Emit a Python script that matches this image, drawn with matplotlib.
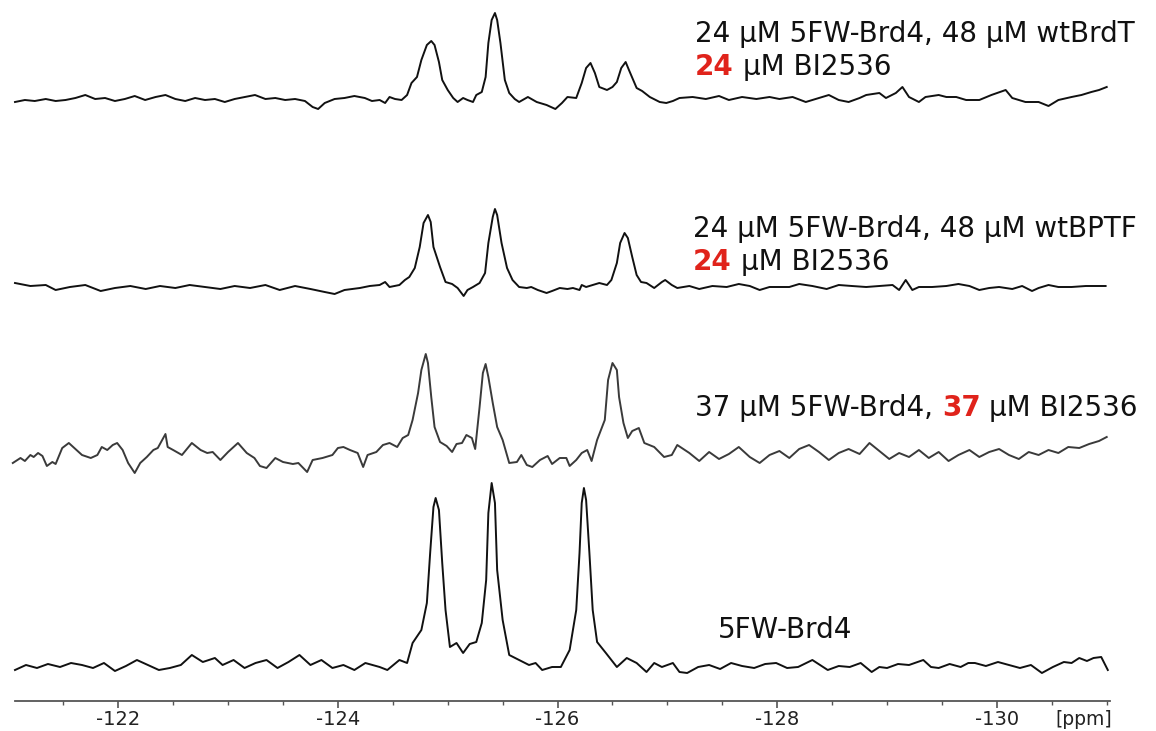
import matplotlib
matplotlib.use("Agg")
import matplotlib.pyplot as plt
import numpy as np

# ---------------- data (chemical shift in ppm, intensity in a.u.) ----------------
# spectrum 1 (top): 24 uM 5FW-Brd4 + 48 uM wtBrdT + 24 uM BI2536
s1_ppm = [-121.06, -121.15, -121.24, -121.34, -121.43, -121.52, -121.61, -121.70, -121.79, -121.88,
          -121.97, -122.06, -122.15, -122.245, -122.34, -122.43, -122.52, -122.61, -122.70, -122.79,
          -122.88, -122.97, -123.06, -123.15, -123.245, -123.34, -123.43, -123.52, -123.61, -123.70,
          -123.77, -123.82, -123.88, -123.97, -124.06, -124.15, -124.245, -124.31, -124.38, -124.43,
          -124.47, -124.52, -124.58, -124.63, -124.67, -124.72, -124.76, -124.81, -124.85, -124.88,
          -124.92, -124.95, -125.00, -125.05, -125.09, -125.14, -125.18, -125.23, -125.26, -125.31,
          -125.345, -125.37, -125.40, -125.43, -125.45, -125.48, -125.52, -125.56, -125.61, -125.65,
          -125.73, -125.81, -125.90, -125.98, -126.04, -126.09, -126.17, -126.22, -126.26, -126.30,
          -126.34, -126.38, -126.45, -126.50, -126.54, -126.58, -126.62, -126.65, -126.72, -126.77,
          -126.84, -126.93, -126.99, -127.05, -127.11, -127.23, -127.35, -127.47, -127.56, -127.68,
          -127.81, -127.93, -128.02, -128.14, -128.26, -128.38, -128.47, -128.56, -128.65, -128.75,
          -128.81, -128.93, -128.99, -129.08, -129.14, -129.20, -129.29, -129.35, -129.47, -129.54,
          -129.63, -129.72, -129.84, -129.95, -130.08, -130.14, -130.26, -130.38, -130.47, -130.56,
          -130.68, -130.77, -130.86, -130.93, -131.00]
s1_int = [-2, 0, -1, 1, -1, 0, 2, 5, 1, 2,
          -1, 1, 4, 0, 3, 5, 1, -1, 2, 0,
          1, -2, 1, 3, 5, 1, 2, 0, 1, -1,
          -7, -9, -3, 1, 2, 4, 2, -1, 0, -3,
          3, 1, 0, 5, 17, 23, 40, 55, 59, 55,
          38, 20, 10, 2, -2, 2, 0, -2, 5, 8,
          23, 57, 80, 87, 80, 57, 20, 7, 1, -2,
          3, -2, -5, -9, -3, 3, 2, 17, 32, 37,
          27, 13, 10, 13, 18, 32, 38, 30, 12, 9,
          3, -2, -3, -1, 2, 3, 1, 4, 0, 3,
          1, 3, 1, 3, -2, 2, 5, 0, -2, 2,
          5, 7, 2, 7, 13, 3, -2, 3, 5, 3,
          3, 0, 0, 5, 10, 2, -2, -2, -6, 0,
          3, 5, 8, 10, 13]

# spectrum 2: 24 uM 5FW-Brd4 + 48 uM wtBPTF + 24 uM BI2536
s2_ppm = [-121.06, -121.20, -121.34, -121.43, -121.56, -121.70, -121.84, -121.97, -122.11, -122.25,
          -122.38, -122.52, -122.65, -122.79, -122.93, -123.06, -123.20, -123.34, -123.47, -123.61,
          -123.75, -123.88, -123.97, -124.06, -124.20, -124.29, -124.38, -124.43, -124.47, -124.56,
          -124.61, -124.65, -124.70, -124.745, -124.78, -124.82, -124.845, -124.87, -124.93, -124.98,
          -125.04, -125.09, -125.145, -125.18, -125.23, -125.29, -125.34, -125.37, -125.41, -125.43,
          -125.45, -125.49, -125.54, -125.59, -125.65, -125.72, -125.76, -125.82, -125.90, -125.95,
          -126.02, -126.09, -126.14, -126.20, -126.22, -126.26, -126.32, -126.38, -126.45, -126.49,
          -126.54, -126.57, -126.61, -126.64, -126.68, -126.72, -126.76, -126.81, -126.88, -126.95,
          -126.98, -127.04, -127.09, -127.20, -127.29, -127.41, -127.54, -127.65, -127.75, -127.84,
          -127.93, -128.11, -128.20, -128.32, -128.45, -128.56, -128.68, -128.81, -128.93, -129.05,
          -129.11, -129.17, -129.23, -129.29, -129.41, -129.54, -129.65, -129.75, -129.84, -129.93,
          -130.02, -130.14, -130.23, -130.32, -130.38, -130.47, -130.56, -130.68, -130.81, -130.93,
          -130.99]
s2_int = [5, 2, 3, -2, 1, 3, -3, 0, 2, -1,
          2, 0, 3, 1, -1, 2, 0, 3, -2, 2,
          -1, -4, -6, -2, 0, 2, 3, 6, 1, 3,
          8, 11, 20, 41, 65, 73, 66, 41, 21, 6,
          4, 0, -8, -2, 1, 5, 15, 45, 71, 79,
          73, 45, 20, 8, 1, 0, 1, -2, -5, -3,
          0, -1, 0, -2, 3, 1, 3, 5, 3, 8,
          25, 45, 55, 50, 31, 13, 6, 5, 0, 6,
          8, 3, 0, 2, -1, 2, 1, 4, 2, -2,
          1, 1, 4, 2, -1, 3, 2, 1, 2, 3,
          -2, 8, -2, 1, 1, 2, 4, 2, -2, 0,
          1, -1, 2, -3, 0, 3, 1, 1, 2, 2,
          2]

# spectrum 3: 37 uM 5FW-Brd4 + 37 uM BI2536
s3_ppm = [-121.04, -121.11, -121.15, -121.20, -121.23, -121.27, -121.31, -121.35, -121.40, -121.43,
          -121.49, -121.55, -121.59, -121.67, -121.75, -121.81, -121.85, -121.90, -121.95, -121.99,
          -122.04, -122.09, -122.15, -122.20, -122.26, -122.32, -122.36, -122.43, -122.45, -122.50,
          -122.58, -122.67, -122.75, -122.81, -122.86, -122.93, -123.00, -123.09, -123.17, -123.24,
          -123.29, -123.35, -123.43, -123.50, -123.59, -123.64, -123.72, -123.77, -123.86, -123.95,
          -124.00, -124.05, -124.11, -124.18, -124.23, -124.27, -124.35, -124.41, -124.47, -124.54,
          -124.59, -124.64, -124.68, -124.73, -124.76, -124.80, -124.82, -124.85, -124.88, -124.93,
          -124.99, -125.04, -125.08, -125.13, -125.17, -125.22, -125.25, -125.29, -125.32, -125.345,
          -125.37, -125.41, -125.45, -125.50, -125.56, -125.63, -125.67, -125.72, -125.77, -125.84,
          -125.91, -125.95, -126.02, -126.08, -126.11, -126.17, -126.22, -126.27, -126.31, -126.36,
          -126.43, -126.46, -126.50, -126.54, -126.56, -126.60, -126.64, -126.68, -126.74, -126.79,
          -126.88, -126.97, -127.04, -127.09, -127.20, -127.29, -127.38, -127.47, -127.56, -127.65,
          -127.75, -127.84, -127.93, -128.02, -128.11, -128.20, -128.29, -128.38, -128.47, -128.56,
          -128.65, -128.75, -128.84, -128.93, -129.02, -129.11, -129.20, -129.29, -129.38, -129.47,
          -129.56, -129.65, -129.75, -129.84, -129.93, -130.02, -130.11, -130.20, -130.29, -130.38,
          -130.47, -130.56, -130.65, -130.75, -130.84, -130.93, -131.00]
s3_int = [-8, -3, -6, 0, -2, 2, -1, -11, -7, -9,
          7, 12, 8, 0, -3, 0, 8, 5, 10, 12,
          5, -8, -18, -8, -2, 5, 7, 21, 8, 5,
          0, 12, 5, 2, 3, -5, 3, 12, 2, -3,
          -11, -13, -3, -7, -9, -8, -17, -5, -3, 0,
          7, 8, 5, 2, -12, 0, 3, 10, 12, 8,
          17, 20, 35, 62, 85, 101, 92, 58, 28, 13,
          9, 3, 11, 12, 20, 17, 6, 48, 82, 91,
          78, 52, 28, 15, -8, -7, 0, -10, -12, -5,
          -1, -9, -3, -3, -11, -5, 2, 5, -6, 15,
          35, 75, 92, 85, 58, 32, 17, 24, 27, 12,
          8, -2, 0, 10, 2, -6, 3, -4, 1, 8,
          -2, -8, 0, 4, -3, 6, 10, 3, -5, 2,
          6, 1, 12, 4, -4, 2, -2, 5, -3, 3,
          -6, 0, 5, -2, 3, 6, 0, -4, 3, 0,
          5, 2, 8, 7, 11, 14, 18]

# spectrum 4 (bottom): 5FW-Brd4 alone
s4_ppm = [-121.06, -121.16, -121.26, -121.36, -121.47, -121.57, -121.67, -121.77, -121.87, -121.97,
          -122.07, -122.17, -122.27, -122.37, -122.47, -122.57, -122.67, -122.77, -122.88, -122.95,
          -123.05, -123.15, -123.25, -123.35, -123.45, -123.55, -123.65, -123.75, -123.85, -123.95,
          -124.05, -124.15, -124.25, -124.38, -124.45, -124.56, -124.63, -124.68, -124.76, -124.81,
          -124.84, -124.87, -124.89, -124.92, -124.95, -124.98, -125.02, -125.08, -125.14, -125.20,
          -125.26, -125.31, -125.35, -125.37, -125.40, -125.43, -125.45, -125.50, -125.56, -125.65,
          -125.74, -125.80, -125.86, -125.95, -126.03, -126.11, -126.17, -126.20, -126.22, -126.24,
          -126.26, -126.29, -126.32, -126.36, -126.44, -126.54, -126.63, -126.72, -126.81, -126.88,
          -126.95, -127.05, -127.11, -127.18, -127.28, -127.38, -127.48, -127.58, -127.68, -127.79,
          -127.89, -127.99, -128.09, -128.19, -128.32, -128.39, -128.46, -128.56, -128.66, -128.76,
          -128.86, -128.93, -129.00, -129.10, -129.20, -129.33, -129.40, -129.47, -129.57, -129.67,
          -129.74, -129.80, -129.90, -130.01, -130.11, -130.21, -130.31, -130.41, -130.51, -130.61,
          -130.68, -130.75, -130.82, -130.88, -130.95, -131.01]
s4_int = [-3, 2, -1, 3, 0, 4, 2, -1, 4, -4,
          1, 7, 2, -3, -1, 2, 12, 5, 9, 2,
          7, -1, 4, 7, -1, 5, 12, 2, 7, -1,
          2, -3, 4, 0, -3, 7, 4, 24, 37, 64,
          114, 160, 169, 157, 104, 57, 20, 24, 14, 23,
          25, 44, 87, 154, 184, 164, 97, 47, 12, 7,
          2, 4, -3, 0, 0, 17, 57, 114, 164, 179,
          167, 114, 57, 25, 14, 0, 9, 4, -5, 4,
          0, 4, -5, -6, 0, 2, -2, 4, 1, -1,
          3, 4, -1, 0, 7, 2, -3, 1, 0, 4,
          -5, 0, -1, 3, 2, 7, 0, -1, 3, 0,
          4, 4, 1, 5, 2, -1, 2, -6, 0, 5,
          4, 9, 6, 9, 10, -3]

spectra_ppm = [s1_ppm, s2_ppm, s3_ppm, s4_ppm]
spectra_int = [s1_int, s2_int, s3_int, s4_int]
line_colors = ["#111111", "#111111", "#3a3a3a", "#111111"]

tick_major = [-122, -124, -126, -128, -130]

# ---------------- layout ----------------
W, H = 1156, 731
DPI = 100
plt.rcParams["axes.unicode_minus"] = False
plt.rcParams["font.family"] = ["DejaVu Sans"]

fig = plt.figure(figsize=(W / DPI, H / DPI), dpi=DPI)
ax = fig.add_axes([15 / W, 30 / H, (1110 - 15) / W, 701 / H])

offsets = [601, 413, 246, 34]  # vertical stacking offsets (a.u.)

for ppm, inten, off, col in zip(spectra_ppm, spectra_int, offsets, line_colors):
    ax.plot(ppm, np.asarray(inten) + off, color=col, lw=1.4, solid_joinstyle="round", clip_on=False)

ax.set_xlim(-121.06, -131.03)
ax.set_ylim(0, 701)

for s in ["left", "right", "top"]:
    ax.spines[s].set_visible(False)
ax.spines["bottom"].set_color("#555555")
ax.spines["bottom"].set_linewidth(1.3)
ax.set_yticks([])
ax.set_xticks(tick_major)
ax.set_xticklabels([str(t) for t in tick_major])
ax.set_xticks(np.arange(-121.5, -131.01, -0.5), minor=True)
ax.tick_params(axis="x", which="major", direction="out", length=5, width=1.2,
               color="#555555", labelsize=14, pad=1.5, labelcolor="#222222")
ax.tick_params(axis="x", which="minor", direction="out", length=3, width=1.0, color="#555555")
ax.text(0.976, -0.027, "[ppm]", transform=ax.transAxes, ha="center", va="center",
        fontsize=13.5, color="#222222")

# ---------------- annotations ----------------
FS = 20
RED = "#e0231b"
renderer = fig.canvas.get_renderer()
space_px = 0.318 * FS * DPI / 72.0


def rich_line(x_px, base_px, parts):
    x = x_px
    for s, col, wt in parts:
        t = fig.text(x / W, 1 - base_px / H, s, color=col, fontweight=wt, fontsize=FS,
                     ha="left", va="baseline")
        bb = t.get_window_extent(renderer)
        x = bb.x1 + space_px


rich_line(695, 42, [("24 µM 5FW-Brd4, 48 µM wtBrdT", "#111111", "normal")])
rich_line(695, 75, [("24", RED, "bold"), ("µM BI2536", "#111111", "normal")])
rich_line(693, 237, [("24 µM 5FW-Brd4, 48 µM wtBPTF", "#111111", "normal")])
rich_line(693, 270, [("24", RED, "bold"), ("µM BI2536", "#111111", "normal")])
rich_line(695, 416, [("37 µM 5FW-Brd4,", "#111111", "normal"), ("37", RED, "bold"),
                     ("µM BI2536", "#111111", "normal")])
rich_line(718, 638, [("5FW-Brd4", "#111111", "normal")])

fig.savefig("out.png", dpi=DPI, facecolor="white")
